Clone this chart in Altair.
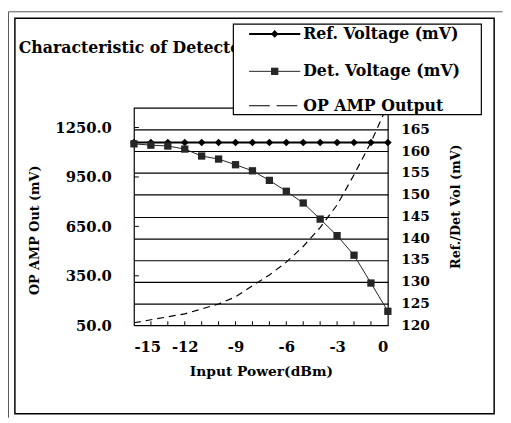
import altair as alt
import pandas as pd

# ---- data ----
x_dbm = [-15, -14, -13, -12, -11, -10, -9, -8, -7, -6, -5, -4, -3, -2, -1, 0]
ref_mv = [162, 162, 162, 162, 162, 162, 162, 162, 162, 162, 162, 162, 162, 162, 162, 162]
det_mv = [161.7, 161.4, 161.2, 160.5, 158.9, 158.2, 156.9, 155.5, 153.3, 150.8,
          148.1, 144.4, 140.6, 136.1, 129.7, 123.2]
opamp_mv = [65, 83, 101, 119, 149, 179, 222, 290, 355, 433, 528, 643, 780, 963, 1160, 1390]

x_tick_labels = [-15, -12, -9, -6, -3, 0]
x_minor = [-14, -13, -12, -11, -10, -9, -8, -7, -6, -5, -4, -3, -2, -1]
left_labels = [50, 350, 650, 950, 1250]
left_ticks = [350, 650, 950, 1250]
right_labels = [120, 125, 130, 135, 140, 145, 150, 155, 160, 165]

title_text = "Characteristic of Detector"
legend_names = ["Ref. Voltage (mV)", "Det. Voltage (mV)", "OP AMP Output"]
x_title = "Input Power(dBm)"
left_title = "OP AMP Out (mV)"
right_title = "Ref./Det Vol (mV)"

df = pd.DataFrame({"x": x_dbm, "ref": ref_mv, "det": det_mv, "op": opamp_mv})

W, H = 258, 221
FONT = "DejaVu Serif"
one = alt.Data(values=[{}])

xs = alt.Scale(domain=[-15, 0], nice=False, zero=False)
yl = alt.Scale(domain=[50, 1370], nice=False, zero=False)
yr = alt.Scale(domain=[120, 170], nice=False, zero=False)

x_axis = alt.Axis(values=x_tick_labels, labelExpr="'' + datum.value", ticks=False,
                  domain=False, grid=False, labelPadding=15, labelFontSize=15,
                  title=x_title, titleX=129, titleY=47, titleBaseline="middle",
                  titleAlign="center", titleFontSize=14)
left_axis = alt.Axis(values=left_labels, format=".1f", ticks=False, domain=False,
                     grid=False, labelPadding=23, labelFontSize=15,
                     title=left_title, titleAngle=270, titleX=-101, titleY=124,
                     titleBaseline="middle", titleAlign="center", titleFontSize=13)
right_axis = alt.Axis(orient="right", values=right_labels, ticks=False, domain=False,
                      grid=True, gridColor="black", gridWidth=1.2, gridOpacity=1,
                      labelPadding=13, labelFontSize=14,
                      title=right_title, titleAngle=270, titleX=69, titleY=100,
                      titleBaseline="middle", titleAlign="center", titleFontSize=13)

X = alt.X("x:Q", scale=xs, axis=x_axis)

# left (OP AMP) layer
op_line = alt.Chart(df).mark_line(color="black", strokeDash=[7, 5], strokeWidth=1.2,
                                  clip=True).encode(
    x=X, y=alt.Y("op:Q", scale=yl, axis=left_axis))
lt = alt.Chart(pd.DataFrame({"v": left_ticks})).mark_rule(color="black").encode(
    y=alt.Y("v:Q", scale=yl, axis=left_axis), x=alt.value(0), x2=alt.value(5))
left = alt.layer(op_line, lt)

# right (Ref / Det) layer
ref_line = alt.Chart(df).mark_line(color="black", strokeWidth=2).encode(
    x=X, y=alt.Y("ref:Q", scale=yr, axis=right_axis))
ref_pts = alt.Chart(df).mark_point(shape="diamond", filled=True, size=60, color="black",
                                   opacity=1).encode(
    x=X, y=alt.Y("ref:Q", scale=yr, axis=right_axis))
det_line = alt.Chart(df).mark_line(color="#222222", strokeWidth=1).encode(
    x=X, y=alt.Y("det:Q", scale=yr, axis=right_axis))
det_pts = alt.Chart(df).mark_point(shape="square", filled=True, size=55, color="#262626",
                                   opacity=1).encode(
    x=X, y=alt.Y("det:Q", scale=yr, axis=right_axis))
right = alt.layer(ref_line, ref_pts, det_line, det_pts)

# minor ticks on the x axis (inward)
xm = alt.Chart(pd.DataFrame({"x": x_minor})).mark_rule(color="black").encode(
    x=X, y=alt.value(H - 4), y2=alt.value(H))

# frames
frame = alt.Chart(one).mark_rect(fillOpacity=0, stroke="black", strokeWidth=1.5).encode(
    x=alt.value(-121), x2=alt.value(366), y=alt.value(-91), y2=alt.value(311))
outer_l = alt.Chart(one).mark_rule(color="#555555", strokeWidth=1).encode(
    x=alt.value(-127.5), y=alt.value(-97.5), y2=alt.value(315))
outer_t = alt.Chart(one).mark_rule(color="#555555", strokeWidth=1).encode(
    x=alt.value(-127.5), x2=alt.value(374.5), y=alt.value(-97.5))

title = alt.Chart(one).mark_text(font=FONT, fontWeight="bold", fontSize=16, align="left",
                                 baseline="alphabetic", color="black").encode(
    x=alt.value(-117), y=alt.value(-56), text=alt.value(title_text))

# legend
leg_box = alt.Chart(one).mark_rect(fill="white", stroke="black", strokeWidth=1.2).encode(
    x=alt.value(101), x2=alt.value(353), y=alt.value(-85), y2=alt.value(7))
leg_y = [-75, -37, -2]
leg_parts = []
leg_parts.append(alt.Chart(one).mark_rule(color="black", strokeWidth=2).encode(
    x=alt.value(117), x2=alt.value(169), y=alt.value(leg_y[0])))
leg_parts.append(alt.Chart(one).mark_point(shape="diamond", filled=True, size=60,
                                           color="black", opacity=1).encode(
    x=alt.value(143), y=alt.value(leg_y[0])))
leg_parts.append(alt.Chart(one).mark_rule(color="#222222", strokeWidth=1).encode(
    x=alt.value(117), x2=alt.value(169), y=alt.value(leg_y[1])))
leg_parts.append(alt.Chart(one).mark_point(shape="square", filled=True, size=55,
                                           color="#262626", opacity=1).encode(
    x=alt.value(143), y=alt.value(leg_y[1])))
leg_parts.append(alt.Chart(one).mark_rule(color="black", strokeWidth=1.2,
                                          strokeDash=[21, 7]).encode(
    x=alt.value(117), x2=alt.value(166), y=alt.value(leg_y[2])))
for name, yy in zip(legend_names, leg_y):
    leg_parts.append(alt.Chart(one).mark_text(font=FONT, fontWeight="bold", fontSize=16,
                                              align="left", baseline="middle",
                                              color="black").encode(
        x=alt.value(172), y=alt.value(yy), text=alt.value(name)))

chart = alt.layer(
    outer_l, outer_t, frame, title, left, right, xm, leg_box, *leg_parts
).resolve_scale(y="independent").properties(
    width=W, height=H,
    autosize=alt.AutoSizeParams(type="none"),
    padding={"left": 128, "top": 98, "right": 117, "bottom": 96},
    background="white",
).configure_view(stroke="black", strokeWidth=1.2).configure_axis(
    labelFont=FONT, labelFontWeight="bold", labelColor="black",
    titleFont=FONT, titleFontWeight="bold", titleColor="black",
)

chart.save("out.html", embed_options={"renderer": "svg", "actions": False})
